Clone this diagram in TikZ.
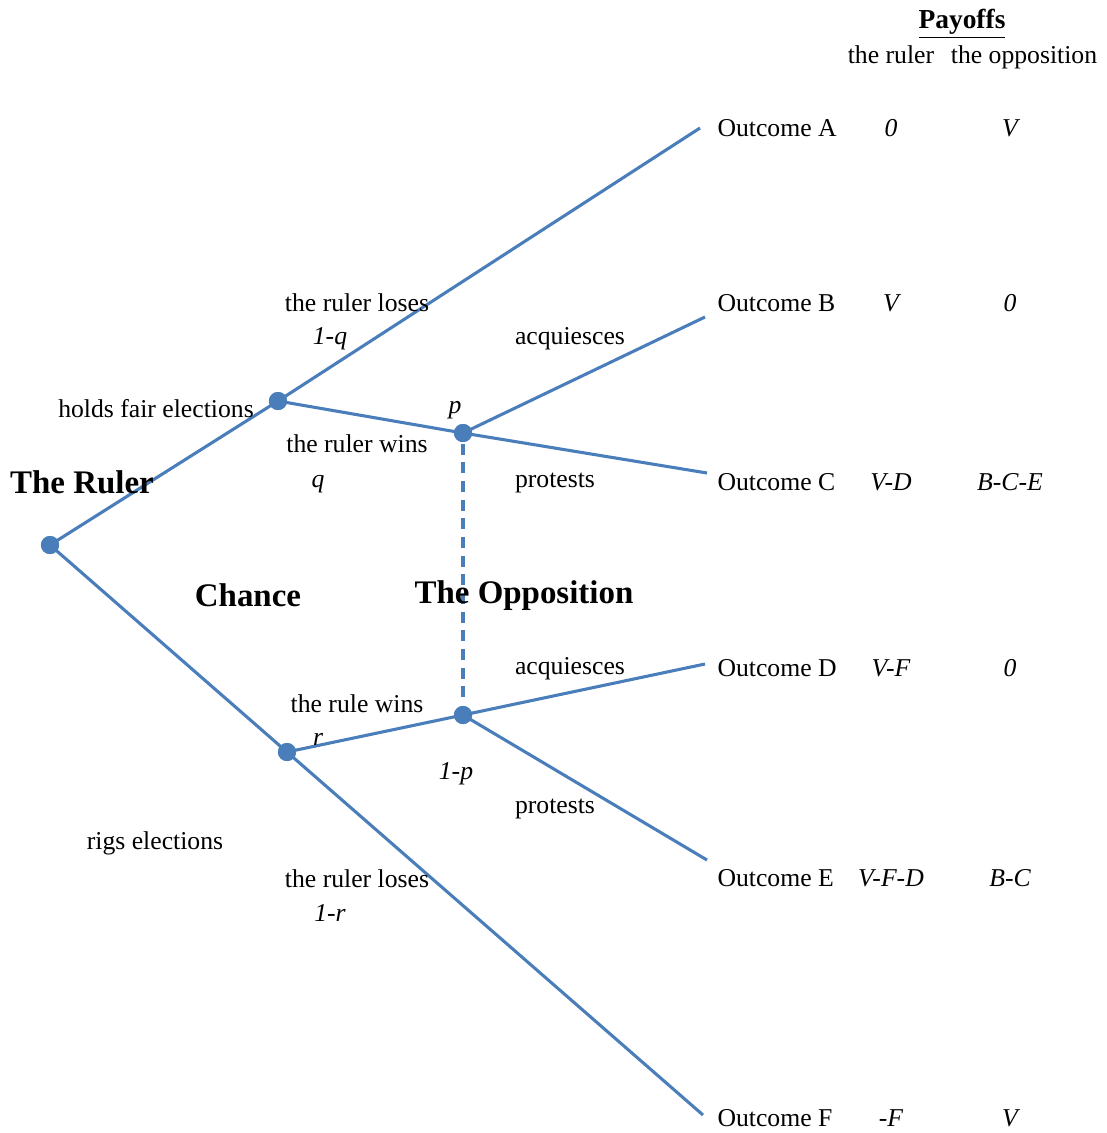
\documentclass[tikz,border=0pt]{standalone}
\usepackage{fontspec}
\setmainfont{Liberation Serif}
\usetikzlibrary{positioning}
\definecolor{treeblue}{RGB}{74,126,187}
\tikzset{
every picture/.style={
line width=1.4pt
}}
\tikzset{
  branch/.style={draw=treeblue, line width=1.4pt},
  info/.style={draw=treeblue, line width=1.4pt, dash pattern=on 5pt off 3.5pt},
  dot/.style={circle, fill=treeblue, inner sep=0pt, minimum size=0.29cm},
  lbl/.style={font=\fontsize{11.7}{14}\selectfont, inner sep=0pt, yshift=-0.05cm},
  pay/.style={font=\fontsize{11.7}{14}\selectfont\itshape, inner sep=0pt, yshift=-0.05cm},
  player/.style={font=\fontsize{15}{18}\selectfont\bfseries, inner sep=0pt, yshift=-0.04cm},
}

\begin{document}
\begin{tikzpicture}[x=0.016cm, y=-0.016cm]
\useasboundingbox (0,0) rectangle (1107,1133);
% decision and chance nodes
\node[dot] (root) at (50,545) {};
\node[dot] (fair) at (278,401) {};
\node[dot] (rig) at (287,752) {};
\node[dot] (oppA) at (463,433) {};
\node[dot] (oppB) at (463,715) {};
% branch ends
\coordinate (endA) at (700,128);
\coordinate (endB) at (705,317);
\coordinate (endC) at (707,473);
\coordinate (endD) at (705,664);
\coordinate (endE) at (707,860);
\coordinate (endF) at (703,1115);
% branches
\draw[branch] (root.center) -- (fair.center);
\draw[branch] (root.center) -- (rig.center);
\draw[branch] (fair.center) -- (endA);
\draw[branch] (fair.center) -- (oppA.center);
\draw[branch] (oppA.center) -- (endB);
\draw[branch] (oppA.center) -- (endC);
\draw[branch] (rig.center) -- (oppB.center);
\draw[branch] (rig.center) -- (endF);
\draw[branch] (oppB.center) -- (endD);
\draw[branch] (oppB.center) -- (endE);
\draw[info] (oppA) -- (oppB);
% redraw dots on top
\foreach \n in {root,fair,rig,oppA,oppB}
  \fill[treeblue] (\n) circle (0.145cm);
% players
\node[player] (ruler) at (82,480) {The Ruler};
\node[player] (chance) at (248,593) {Chance};
\node[player] (opposition) at (524,593) {The Opposition};
% moves
\node[lbl] (fairlbl) at (156,405) {holds fair elections};
\node[lbl] (riglbl) at (155,840) {rigs elections};
\node[lbl] (loseq) at (357,300) {the ruler loses};
\node[pay] (oneq) at (330,336) {1-q};
\node[lbl] (winq) at (357,441) {the ruler wins};
\node[pay] (q) at (318,481) {q};
\node[pay] (p) at (455,407) {p};
\node[lbl] (acqA) at (570,336) {acquiesces};
\node[lbl] (protA) at (555,480) {protests};
\node[lbl] (winr) at (357,701) {the rule wins};
\node[pay] (r) at (318,736) {r};
\node[pay] (onep) at (456,771) {1-p};
\node[lbl] (acqB) at (570,666) {acquiesces};
\node[lbl] (protB) at (555,806) {protests};
\node[lbl] (loser) at (357,876) {the ruler loses};
\node[pay] (oner) at (330,910) {1-r};
% outcomes and payoffs
\node[font=\fontsize{12.5}{15}\selectfont\bfseries, inner sep=0pt] (payoffs) at (962,24) {\underline{Payoffs}};
\node[lbl, anchor=base, yshift=0.05cm] (colruler) at (891,63) {the ruler};
\node[lbl, anchor=base, yshift=0.05cm] (colopp) at (1024,63) {the opposition};
\foreach \o/\y/\a/\b in {A/125/0/V, B/300/V/0, C/479/V-D/B-C-E, D/665/V-F/0, E/875/V-F-D/B-C, F/1115/-F/V}{
  \node[lbl, anchor=west] (out\o) at (716,\y) {Outcome \o};
  \node[pay] (pr\o) at (891,\y) {\a};
  \node[pay] (po\o) at (1010,\y) {\b};
}
\end{tikzpicture}
\end{document}
